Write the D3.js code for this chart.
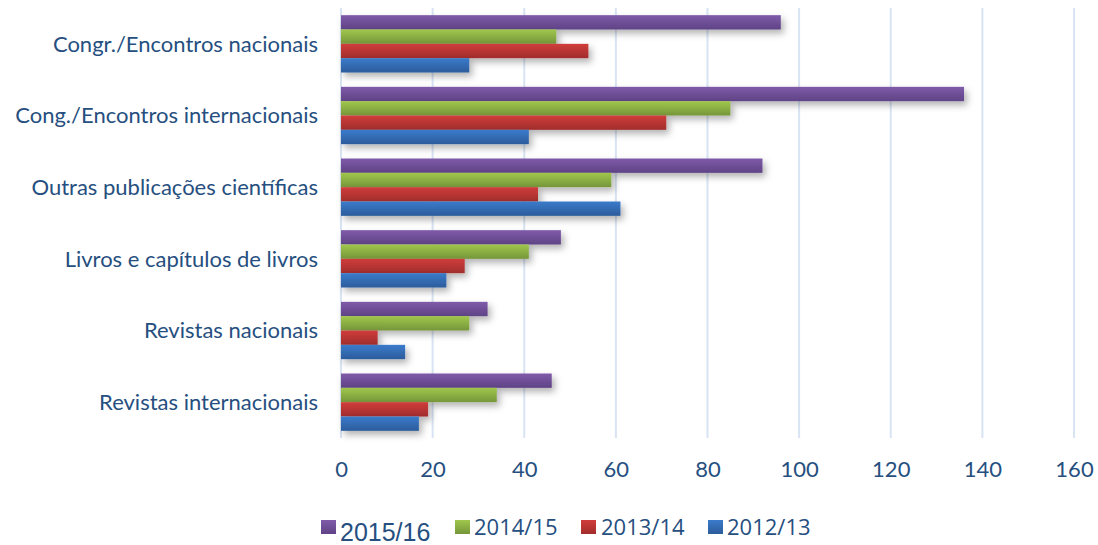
<!DOCTYPE html>
<html>
<head>
<meta charset="utf-8">
<script src="https://cdn.jsdelivr.net/npm/d3@7"></script>
<style>
  body { margin: 0; background: #fff; }
  svg { display: block; }
</style>
</head>
<body>
<div id="chart"></div>
<script>
// categories top to bottom
const categories = [
    "Congr./Encontros nacionais",
    "Cong./Encontros internacionais",
    "Outras publicações científicas",
    "Livros e capítulos de livros",
    "Revistas nacionais",
    "Revistas internacionais"
];
const seriesNames = ["2015/16", "2014/15", "2013/14", "2012/13"];
const values2015 = [96, 136, 92, 48, 32, 46];
const values2014 = [47, 85, 59, 41, 28, 34];
const values2013 = [54, 71, 43, 27, 8, 19];
const values2012 = [28, 41, 61, 23, 14, 17];
const xTicks = [0, 20, 40, 60, 80, 100, 120, 140, 160];

const seriesValues = [values2015, values2014, values2013, values2012];
const colors = [
    ["#7f5ba9", "#5f4386"],
    ["#a0c74c", "#76963a"],
    ["#d03d3b", "#a12d2c"],
    ["#3b7bcb", "#2c5c9b"]
];

const width = 1098, height = 545;
const plotLeft = 341, plotRight = 1074, plotTop = 8, plotBottom = 438;

const svg = d3.select("#chart").append("svg")
    .attr("width", width)
    .attr("height", height);

const defs = svg.append("defs");
colors.forEach((c, i) => {
    const g = defs.append("linearGradient")
        .attr("id", "grad" + i)
        .attr("x1", "0%").attr("y1", "0%")
        .attr("x2", "0%").attr("y2", "100%");
    g.append("stop").attr("offset", "0%").attr("stop-color", c[0]);
    g.append("stop").attr("offset", "100%").attr("stop-color", c[1]);
});
const shadow = defs.append("filter").attr("id", "shadow")
    .attr("x", "-10%").attr("y", "-30%").attr("width", "130%").attr("height", "200%");
shadow.append("feDropShadow")
    .attr("dx", 3).attr("dy", 4).attr("stdDeviation", 3.5)
    .attr("flood-color", "#000").attr("flood-opacity", 0.3);

const x = d3.scaleLinear().domain([0, 160]).range([plotLeft, plotRight]);
const y = d3.scaleBand().domain(categories).range([plotTop, plotBottom]).paddingInner(0.2).paddingOuter(0.1);
const ySub = d3.scaleBand().domain(seriesNames).range([0, y.bandwidth()]);

// gridlines
svg.append("g").selectAll("line")
    .data(xTicks)
    .enter().append("line")
    .attr("x1", d => x(d)).attr("x2", d => x(d))
    .attr("y1", plotTop).attr("y2", plotBottom)
    .attr("stroke", "#d8e4f3")
    .attr("stroke-width", 2);

// bars
const bars = svg.append("g");
seriesNames.forEach((s, i) => {
    bars.append("g")
        .attr("filter", "url(#shadow)")
        .selectAll("rect")
        .data(categories.map((c, j) => ({ c: c, v: seriesValues[i][j] })))
        .enter().append("rect")
        .attr("x", x(0))
        .attr("y", d => y(d.c) + ySub(s))
        .attr("width", d => x(d.v) - x(0))
        .attr("height", ySub.bandwidth())
        .attr("fill", "url(#grad" + i + ")");
});

// category labels
svg.append("g").selectAll("text")
    .data(categories)
    .enter().append("text")
    .attr("x", 318)
    .attr("y", d => y(d) + y.bandwidth() / 2)
    .attr("dy", "0.35em")
    .attr("text-anchor", "end")
    .attr("fill", "#264f80")
    .style("font-family", "Lato, 'Open Sans', sans-serif")
    .style("font-size", "22px")
    .text(d => d);

// x axis labels
const axis = d3.axisBottom(x).tickValues(xTicks).tickSize(0).tickPadding(0);
const axisG = svg.append("g")
    .attr("transform", `translate(0,${plotBottom + 23})`)
    .call(axis);
axisG.select(".domain").remove();
axisG.selectAll("text")
    .attr("fill", "#264f80")
    .style("font-family", "Lato, 'Open Sans', sans-serif")
    .style("font-size", "22px");

// legend
const legendItems = [
    { x: 321, tx: 340, size: 25, base: 541, font: "'Liberation Sans', Arial, sans-serif" },
    { x: 455, tx: 474, size: 22, base: 535, font: "'Open Sans', sans-serif" },
    { x: 581, tx: 601, size: 22, base: 535, font: "'Open Sans', sans-serif" },
    { x: 708, tx: 727, size: 22, base: 535, font: "'Open Sans', sans-serif" }
];
const legend = svg.append("g");
seriesNames.forEach((s, i) => {
    const it = legendItems[i];
    legend.append("rect")
        .attr("x", it.x).attr("y", 520)
        .attr("width", 15).attr("height", 14)
        .attr("fill", "url(#grad" + i + ")");
    legend.append("text")
        .attr("x", it.tx)
        .attr("y", it.base)
        .attr("fill", "#264f80")
        .style("font-family", it.font)
        .style("font-size", it.size + "px")
        .text(s);
});
</script>
</body>
</html>
